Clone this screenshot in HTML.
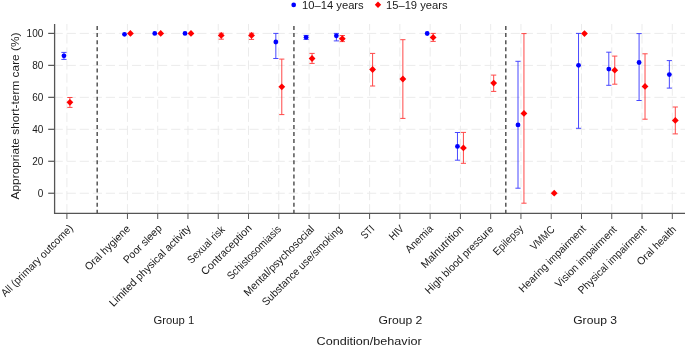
<!DOCTYPE html>
<html><head><meta charset="utf-8"><style>
html,body{margin:0;padding:0;background:#fff;}
body{width:685px;height:347px;overflow:hidden;}
svg{display:block;will-change:transform;font-family:"Liberation Sans",sans-serif;fill:#1a1a1a;}
</style></head><body>
<svg width="685" height="347" viewBox="0 0 685 347">
<line x1="53.6" y1="193.25" x2="685" y2="193.25" stroke="#ebebeb" stroke-width="1" stroke-dasharray="9.2 3.86"/>
<line x1="53.6" y1="161.28" x2="685" y2="161.28" stroke="#ebebeb" stroke-width="1" stroke-dasharray="9.2 3.86"/>
<line x1="53.6" y1="129.31" x2="685" y2="129.31" stroke="#ebebeb" stroke-width="1" stroke-dasharray="9.2 3.86"/>
<line x1="53.6" y1="97.34" x2="685" y2="97.34" stroke="#ebebeb" stroke-width="1" stroke-dasharray="9.2 3.86"/>
<line x1="53.6" y1="65.37" x2="685" y2="65.37" stroke="#ebebeb" stroke-width="1" stroke-dasharray="9.2 3.86"/>
<line x1="53.6" y1="33.40" x2="685" y2="33.40" stroke="#ebebeb" stroke-width="1" stroke-dasharray="9.2 3.86"/>
<line x1="66.90" y1="213.3" x2="66.90" y2="24" stroke="#ebebeb" stroke-width="1" stroke-dasharray="9.2 3.86"/>
<line x1="127.44" y1="213.3" x2="127.44" y2="24" stroke="#ebebeb" stroke-width="1" stroke-dasharray="9.2 3.86"/>
<line x1="157.71" y1="213.3" x2="157.71" y2="24" stroke="#ebebeb" stroke-width="1" stroke-dasharray="9.2 3.86"/>
<line x1="187.98" y1="213.3" x2="187.98" y2="24" stroke="#ebebeb" stroke-width="1" stroke-dasharray="9.2 3.86"/>
<line x1="218.25" y1="213.3" x2="218.25" y2="24" stroke="#ebebeb" stroke-width="1" stroke-dasharray="9.2 3.86"/>
<line x1="248.52" y1="213.3" x2="248.52" y2="24" stroke="#ebebeb" stroke-width="1" stroke-dasharray="9.2 3.86"/>
<line x1="278.79" y1="213.3" x2="278.79" y2="24" stroke="#ebebeb" stroke-width="1" stroke-dasharray="9.2 3.86"/>
<line x1="309.06" y1="213.3" x2="309.06" y2="24" stroke="#ebebeb" stroke-width="1" stroke-dasharray="9.2 3.86"/>
<line x1="339.33" y1="213.3" x2="339.33" y2="24" stroke="#ebebeb" stroke-width="1" stroke-dasharray="9.2 3.86"/>
<line x1="369.60" y1="213.3" x2="369.60" y2="24" stroke="#ebebeb" stroke-width="1" stroke-dasharray="9.2 3.86"/>
<line x1="399.87" y1="213.3" x2="399.87" y2="24" stroke="#ebebeb" stroke-width="1" stroke-dasharray="9.2 3.86"/>
<line x1="430.14" y1="213.3" x2="430.14" y2="24" stroke="#ebebeb" stroke-width="1" stroke-dasharray="9.2 3.86"/>
<line x1="460.41" y1="213.3" x2="460.41" y2="24" stroke="#ebebeb" stroke-width="1" stroke-dasharray="9.2 3.86"/>
<line x1="490.68" y1="213.3" x2="490.68" y2="24" stroke="#ebebeb" stroke-width="1" stroke-dasharray="9.2 3.86"/>
<line x1="520.95" y1="213.3" x2="520.95" y2="24" stroke="#ebebeb" stroke-width="1" stroke-dasharray="9.2 3.86"/>
<line x1="551.22" y1="213.3" x2="551.22" y2="24" stroke="#ebebeb" stroke-width="1" stroke-dasharray="9.2 3.86"/>
<line x1="581.49" y1="213.3" x2="581.49" y2="24" stroke="#ebebeb" stroke-width="1" stroke-dasharray="9.2 3.86"/>
<line x1="611.76" y1="213.3" x2="611.76" y2="24" stroke="#ebebeb" stroke-width="1" stroke-dasharray="9.2 3.86"/>
<line x1="642.03" y1="213.3" x2="642.03" y2="24" stroke="#ebebeb" stroke-width="1" stroke-dasharray="9.2 3.86"/>
<line x1="672.30" y1="213.3" x2="672.30" y2="24" stroke="#ebebeb" stroke-width="1" stroke-dasharray="9.2 3.86"/>
<line x1="97.17" y1="26" x2="97.17" y2="213.3" stroke="#3a3a3a" stroke-width="1.3" stroke-dasharray="4 3.07"/>
<line x1="293.93" y1="26" x2="293.93" y2="213.3" stroke="#3a3a3a" stroke-width="1.3" stroke-dasharray="4 3.07"/>
<line x1="505.82" y1="26" x2="505.82" y2="213.3" stroke="#3a3a3a" stroke-width="1.3" stroke-dasharray="4 3.07"/>
<line x1="54.6" y1="24" x2="54.6" y2="213.3" stroke="#555555" stroke-width="1.3"/>
<line x1="53.95" y1="213.3" x2="685" y2="213.3" stroke="#555555" stroke-width="1.3"/>
<line x1="48.2" y1="193.25" x2="54.6" y2="193.25" stroke="#555555" stroke-width="1.2"/>
<text x="43.3" y="196.85" text-anchor="end" font-size="10">0</text>
<line x1="48.2" y1="161.28" x2="54.6" y2="161.28" stroke="#555555" stroke-width="1.2"/>
<text x="43.3" y="164.88" text-anchor="end" font-size="10">20</text>
<line x1="48.2" y1="129.31" x2="54.6" y2="129.31" stroke="#555555" stroke-width="1.2"/>
<text x="43.3" y="132.91" text-anchor="end" font-size="10">40</text>
<line x1="48.2" y1="97.34" x2="54.6" y2="97.34" stroke="#555555" stroke-width="1.2"/>
<text x="43.3" y="100.94" text-anchor="end" font-size="10">60</text>
<line x1="48.2" y1="65.37" x2="54.6" y2="65.37" stroke="#555555" stroke-width="1.2"/>
<text x="43.3" y="68.97" text-anchor="end" font-size="10">80</text>
<line x1="48.2" y1="33.40" x2="54.6" y2="33.40" stroke="#555555" stroke-width="1.2"/>
<text x="43.3" y="37.00" text-anchor="end" font-size="10">100</text>
<line x1="66.90" y1="213.3" x2="66.90" y2="219" stroke="#555555" stroke-width="1"/>
<text transform="translate(73.77,228.80) rotate(-45)" text-anchor="end" font-size="10.7" textLength="96.96" lengthAdjust="spacingAndGlyphs">All (primary outcome)</text>
<line x1="127.44" y1="213.3" x2="127.44" y2="219" stroke="#555555" stroke-width="1"/>
<text transform="translate(130.74,229.40) rotate(-45)" text-anchor="end" font-size="10.7" textLength="58.91" lengthAdjust="spacingAndGlyphs">Oral hygiene</text>
<line x1="157.71" y1="213.3" x2="157.71" y2="219" stroke="#555555" stroke-width="1"/>
<text transform="translate(162.53,229.01) rotate(-45)" text-anchor="end" font-size="10.7" textLength="49.61" lengthAdjust="spacingAndGlyphs">Poor sleep</text>
<line x1="187.98" y1="213.3" x2="187.98" y2="219" stroke="#555555" stroke-width="1"/>
<text transform="translate(191.46,229.22) rotate(-45)" text-anchor="end" font-size="10.7" textLength="110.37" lengthAdjust="spacingAndGlyphs">Limited physical activity</text>
<line x1="218.25" y1="213.3" x2="218.25" y2="219" stroke="#555555" stroke-width="1"/>
<text transform="translate(225.47,230.28) rotate(-45)" text-anchor="end" font-size="10.7" textLength="47.88" lengthAdjust="spacingAndGlyphs">Sexual risk</text>
<line x1="248.52" y1="213.3" x2="248.52" y2="219" stroke="#555555" stroke-width="1"/>
<text transform="translate(252.42,228.80) rotate(-45)" text-anchor="end" font-size="10.7" textLength="66.55" lengthAdjust="spacingAndGlyphs">Contraception</text>
<line x1="278.79" y1="213.3" x2="278.79" y2="219" stroke="#555555" stroke-width="1"/>
<text transform="translate(281.84,229.65) rotate(-45)" text-anchor="end" font-size="10.7" textLength="71.72" lengthAdjust="spacingAndGlyphs">Schistosomiasis</text>
<line x1="309.06" y1="213.3" x2="309.06" y2="219" stroke="#555555" stroke-width="1"/>
<text transform="translate(314.94,229.79) rotate(-45)" text-anchor="end" font-size="10.7" textLength="94.55" lengthAdjust="spacingAndGlyphs">Mental/psychosocial</text>
<line x1="339.33" y1="213.3" x2="339.33" y2="219" stroke="#555555" stroke-width="1"/>
<text transform="translate(342.84,229.61) rotate(-45)" text-anchor="end" font-size="10.7" textLength="108.48" lengthAdjust="spacingAndGlyphs">Substance use/smoking</text>
<line x1="369.60" y1="213.3" x2="369.60" y2="219" stroke="#555555" stroke-width="1"/>
<text transform="translate(375.06,229.51) rotate(-45)" text-anchor="end" font-size="10.7" textLength="14.14" lengthAdjust="spacingAndGlyphs">STI</text>
<line x1="399.87" y1="213.3" x2="399.87" y2="219" stroke="#555555" stroke-width="1"/>
<text transform="translate(404.48,229.51) rotate(-45)" text-anchor="end" font-size="10.7" textLength="15.83" lengthAdjust="spacingAndGlyphs">HIV</text>
<line x1="430.14" y1="213.3" x2="430.14" y2="219" stroke="#555555" stroke-width="1"/>
<text transform="translate(433.69,229.29) rotate(-45)" text-anchor="end" font-size="10.7" textLength="34.25" lengthAdjust="spacingAndGlyphs">Anemia</text>
<line x1="460.41" y1="213.3" x2="460.41" y2="219" stroke="#555555" stroke-width="1"/>
<text transform="translate(464.13,229.69) rotate(-45)" text-anchor="end" font-size="10.7" textLength="55.15" lengthAdjust="spacingAndGlyphs">Malnutrition</text>
<line x1="490.68" y1="213.3" x2="490.68" y2="219" stroke="#555555" stroke-width="1"/>
<text transform="translate(494.18,229.77) rotate(-45)" text-anchor="end" font-size="10.7" textLength="91.66" lengthAdjust="spacingAndGlyphs">High blood pressure</text>
<line x1="520.95" y1="213.3" x2="520.95" y2="219" stroke="#555555" stroke-width="1"/>
<text transform="translate(524.00,229.22) rotate(-45)" text-anchor="end" font-size="10.7" textLength="37.71" lengthAdjust="spacingAndGlyphs">Epilepsy</text>
<line x1="551.22" y1="213.3" x2="551.22" y2="219" stroke="#555555" stroke-width="1"/>
<text transform="translate(555.30,230.11) rotate(-45)" text-anchor="end" font-size="10.7" textLength="29.36" lengthAdjust="spacingAndGlyphs">VMMC</text>
<line x1="581.49" y1="213.3" x2="581.49" y2="219" stroke="#555555" stroke-width="1"/>
<text transform="translate(586.45,229.58) rotate(-45)" text-anchor="end" font-size="10.7" textLength="89.67" lengthAdjust="spacingAndGlyphs">Hearing impairment</text>
<line x1="611.76" y1="213.3" x2="611.76" y2="219" stroke="#555555" stroke-width="1"/>
<text transform="translate(617.39,230.11) rotate(-45)" text-anchor="end" font-size="10.7" textLength="82.05" lengthAdjust="spacingAndGlyphs">Vision impairment</text>
<line x1="642.03" y1="213.3" x2="642.03" y2="219" stroke="#555555" stroke-width="1"/>
<text transform="translate(646.99,229.86) rotate(-45)" text-anchor="end" font-size="10.7" textLength="91.53" lengthAdjust="spacingAndGlyphs">Physical impairment</text>
<line x1="672.30" y1="213.3" x2="672.30" y2="219" stroke="#555555" stroke-width="1"/>
<text transform="translate(676.91,230.07) rotate(-45)" text-anchor="end" font-size="10.7" textLength="50.68" lengthAdjust="spacingAndGlyphs">Oral health</text>
<g stroke="#0000ff" stroke-width="1" opacity="0.72"><line x1="63.95" y1="52.4" x2="63.95" y2="59.4"/><line x1="61.35" y1="52.4" x2="66.55" y2="52.4"/><line x1="61.35" y1="59.4" x2="66.55" y2="59.4"/></g>
<circle cx="63.95" cy="55.8" r="2.4" fill="#0000ff"/>
<g stroke="#ff0000" stroke-width="1" opacity="0.72"><line x1="69.90" y1="97.5" x2="69.90" y2="107.4"/><line x1="67.30" y1="97.5" x2="72.50" y2="97.5"/><line x1="67.30" y1="107.4" x2="72.50" y2="107.4"/></g>
<path d="M69.90 98.90L73.30 102.30L69.90 105.70L66.50 102.30Z" fill="#ff0000"/>
<circle cx="124.49" cy="34.3" r="2.4" fill="#0000ff"/>
<path d="M130.44 30.00L133.84 33.40L130.44 36.80L127.04 33.40Z" fill="#ff0000"/>
<circle cx="154.76" cy="33.4" r="2.4" fill="#0000ff"/>
<path d="M160.71 30.00L164.11 33.40L160.71 36.80L157.31 33.40Z" fill="#ff0000"/>
<circle cx="185.03" cy="33.4" r="2.4" fill="#0000ff"/>
<path d="M190.98 30.00L194.38 33.40L190.98 36.80L187.58 33.40Z" fill="#ff0000"/>
<g stroke="#ff0000" stroke-width="1" opacity="0.72"><line x1="221.25" y1="33.2" x2="221.25" y2="39.2"/><line x1="218.65" y1="33.2" x2="223.85" y2="33.2"/><line x1="218.65" y1="39.2" x2="223.85" y2="39.2"/></g>
<path d="M221.25 32.00L224.65 35.40L221.25 38.80L217.85 35.40Z" fill="#ff0000"/>
<g stroke="#ff0000" stroke-width="1" opacity="0.72"><line x1="251.52" y1="33.2" x2="251.52" y2="39.4"/><line x1="248.92" y1="33.2" x2="254.12" y2="33.2"/><line x1="248.92" y1="39.4" x2="254.12" y2="39.4"/></g>
<path d="M251.52 32.00L254.92 35.40L251.52 38.80L248.12 35.40Z" fill="#ff0000"/>
<g stroke="#0000ff" stroke-width="1" opacity="0.72"><line x1="275.84" y1="33.4" x2="275.84" y2="58.5"/><line x1="273.24" y1="33.4" x2="278.44" y2="33.4"/><line x1="273.24" y1="58.5" x2="278.44" y2="58.5"/></g>
<circle cx="275.84" cy="42.0" r="2.4" fill="#0000ff"/>
<g stroke="#ff0000" stroke-width="1" opacity="0.72"><line x1="281.79" y1="59.1" x2="281.79" y2="114.6"/><line x1="279.19" y1="59.1" x2="284.39" y2="59.1"/><line x1="279.19" y1="114.6" x2="284.39" y2="114.6"/></g>
<path d="M281.79 83.40L285.19 86.80L281.79 90.20L278.39 86.80Z" fill="#ff0000"/>
<g stroke="#0000ff" stroke-width="1" opacity="0.72"><line x1="306.11" y1="35.4" x2="306.11" y2="39.4"/><line x1="303.51" y1="35.4" x2="308.71" y2="35.4"/><line x1="303.51" y1="39.4" x2="308.71" y2="39.4"/></g>
<circle cx="306.11" cy="37.3" r="2.4" fill="#0000ff"/>
<g stroke="#ff0000" stroke-width="1" opacity="0.72"><line x1="312.06" y1="53.4" x2="312.06" y2="63.4"/><line x1="309.46" y1="53.4" x2="314.66" y2="53.4"/><line x1="309.46" y1="63.4" x2="314.66" y2="63.4"/></g>
<path d="M312.06 55.10L315.46 58.50L312.06 61.90L308.66 58.50Z" fill="#ff0000"/>
<g stroke="#0000ff" stroke-width="1" opacity="0.72"><line x1="336.38" y1="33.4" x2="336.38" y2="40.9"/><line x1="333.78" y1="33.4" x2="338.98" y2="33.4"/><line x1="333.78" y1="40.9" x2="338.98" y2="40.9"/></g>
<circle cx="336.38" cy="35.8" r="2.4" fill="#0000ff"/>
<g stroke="#ff0000" stroke-width="1" opacity="0.72"><line x1="342.33" y1="35.5" x2="342.33" y2="41.6"/><line x1="339.73" y1="35.5" x2="344.93" y2="35.5"/><line x1="339.73" y1="41.6" x2="344.93" y2="41.6"/></g>
<path d="M342.33 35.30L345.73 38.70L342.33 42.10L338.93 38.70Z" fill="#ff0000"/>
<g stroke="#ff0000" stroke-width="1" opacity="0.72"><line x1="372.60" y1="53.4" x2="372.60" y2="86.0"/><line x1="370.00" y1="53.4" x2="375.20" y2="53.4"/><line x1="370.00" y1="86.0" x2="375.20" y2="86.0"/></g>
<path d="M372.60 66.10L376.00 69.50L372.60 72.90L369.20 69.50Z" fill="#ff0000"/>
<g stroke="#ff0000" stroke-width="1" opacity="0.72"><line x1="402.87" y1="39.7" x2="402.87" y2="118.4"/><line x1="400.27" y1="39.7" x2="405.47" y2="39.7"/><line x1="400.27" y1="118.4" x2="405.47" y2="118.4"/></g>
<path d="M402.87 75.60L406.27 79.00L402.87 82.40L399.47 79.00Z" fill="#ff0000"/>
<circle cx="427.19" cy="33.5" r="2.4" fill="#0000ff"/>
<g stroke="#ff0000" stroke-width="1" opacity="0.72"><line x1="433.14" y1="33.4" x2="433.14" y2="41.4"/><line x1="430.54" y1="33.4" x2="435.74" y2="33.4"/><line x1="430.54" y1="41.4" x2="435.74" y2="41.4"/></g>
<path d="M433.14 34.00L436.54 37.40L433.14 40.80L429.74 37.40Z" fill="#ff0000"/>
<g stroke="#0000ff" stroke-width="1" opacity="0.72"><line x1="457.46" y1="132.5" x2="457.46" y2="160.2"/><line x1="454.86" y1="132.5" x2="460.06" y2="132.5"/><line x1="454.86" y1="160.2" x2="460.06" y2="160.2"/></g>
<circle cx="457.46" cy="146.4" r="2.4" fill="#0000ff"/>
<g stroke="#ff0000" stroke-width="1" opacity="0.72"><line x1="463.41" y1="132.4" x2="463.41" y2="163.3"/><line x1="460.81" y1="132.4" x2="466.01" y2="132.4"/><line x1="460.81" y1="163.3" x2="466.01" y2="163.3"/></g>
<path d="M463.41 144.50L466.81 147.90L463.41 151.30L460.01 147.90Z" fill="#ff0000"/>
<g stroke="#ff0000" stroke-width="1" opacity="0.72"><line x1="493.68" y1="75.1" x2="493.68" y2="91.4"/><line x1="491.08" y1="75.1" x2="496.28" y2="75.1"/><line x1="491.08" y1="91.4" x2="496.28" y2="91.4"/></g>
<path d="M493.68 79.70L497.08 83.10L493.68 86.50L490.28 83.10Z" fill="#ff0000"/>
<g stroke="#0000ff" stroke-width="1" opacity="0.72"><line x1="518.00" y1="61.3" x2="518.00" y2="188.2"/><line x1="515.40" y1="61.3" x2="520.60" y2="61.3"/><line x1="515.40" y1="188.2" x2="520.60" y2="188.2"/></g>
<circle cx="518.00" cy="124.9" r="2.4" fill="#0000ff"/>
<g stroke="#ff0000" stroke-width="1" opacity="0.72"><line x1="523.95" y1="33.6" x2="523.95" y2="203.2"/><line x1="521.35" y1="33.6" x2="526.55" y2="33.6"/><line x1="521.35" y1="203.2" x2="526.55" y2="203.2"/></g>
<path d="M523.95 110.00L527.35 113.40L523.95 116.80L520.55 113.40Z" fill="#ff0000"/>
<path d="M554.22 189.80L557.62 193.20L554.22 196.60L550.82 193.20Z" fill="#ff0000"/>
<g stroke="#0000ff" stroke-width="1" opacity="0.72"><line x1="578.54" y1="33.4" x2="578.54" y2="128.3"/><line x1="575.94" y1="33.4" x2="581.14" y2="33.4"/><line x1="575.94" y1="128.3" x2="581.14" y2="128.3"/></g>
<circle cx="578.54" cy="65.3" r="2.4" fill="#0000ff"/>
<path d="M584.49 30.20L587.89 33.60L584.49 37.00L581.09 33.60Z" fill="#ff0000"/>
<g stroke="#0000ff" stroke-width="1" opacity="0.72"><line x1="608.81" y1="52.2" x2="608.81" y2="85.3"/><line x1="606.21" y1="52.2" x2="611.41" y2="52.2"/><line x1="606.21" y1="85.3" x2="611.41" y2="85.3"/></g>
<circle cx="608.81" cy="69.1" r="2.4" fill="#0000ff"/>
<g stroke="#ff0000" stroke-width="1" opacity="0.72"><line x1="614.76" y1="56.1" x2="614.76" y2="84.2"/><line x1="612.16" y1="56.1" x2="617.36" y2="56.1"/><line x1="612.16" y1="84.2" x2="617.36" y2="84.2"/></g>
<path d="M614.76 66.80L618.16 70.20L614.76 73.60L611.36 70.20Z" fill="#ff0000"/>
<g stroke="#0000ff" stroke-width="1" opacity="0.72"><line x1="639.08" y1="33.6" x2="639.08" y2="100.5"/><line x1="636.48" y1="33.6" x2="641.68" y2="33.6"/><line x1="636.48" y1="100.5" x2="641.68" y2="100.5"/></g>
<circle cx="639.08" cy="62.5" r="2.4" fill="#0000ff"/>
<g stroke="#ff0000" stroke-width="1" opacity="0.72"><line x1="645.03" y1="53.8" x2="645.03" y2="119.2"/><line x1="642.43" y1="53.8" x2="647.63" y2="53.8"/><line x1="642.43" y1="119.2" x2="647.63" y2="119.2"/></g>
<path d="M645.03 83.00L648.43 86.40L645.03 89.80L641.63 86.40Z" fill="#ff0000"/>
<g stroke="#0000ff" stroke-width="1" opacity="0.72"><line x1="669.35" y1="60.6" x2="669.35" y2="88.1"/><line x1="666.75" y1="60.6" x2="671.95" y2="60.6"/><line x1="666.75" y1="88.1" x2="671.95" y2="88.1"/></g>
<circle cx="669.35" cy="74.6" r="2.4" fill="#0000ff"/>
<g stroke="#ff0000" stroke-width="1" opacity="0.72"><line x1="675.30" y1="107.0" x2="675.30" y2="133.9"/><line x1="672.70" y1="107.0" x2="677.90" y2="107.0"/><line x1="672.70" y1="133.9" x2="677.90" y2="133.9"/></g>
<path d="M675.30 117.00L678.70 120.40L675.30 123.80L671.90 120.40Z" fill="#ff0000"/>
<circle cx="293.7" cy="4.9" r="2.35" fill="#0000ff"/>
<text x="302" y="8.7" font-size="11.6" textLength="61.7" lengthAdjust="spacingAndGlyphs">10–14 years</text>
<path d="M378.00 1.60L381.20 4.80L378.00 8.00L374.80 4.80Z" fill="#ff0000"/>
<text x="386" y="8.7" font-size="11.6" textLength="61.5" lengthAdjust="spacingAndGlyphs">15–19 years</text>
<text transform="translate(19.3,116) rotate(-90)" text-anchor="middle" font-size="11.8" textLength="166.9" lengthAdjust="spacingAndGlyphs">Appropriate short-term care (%)</text>
<text x="173.90" y="324.4" text-anchor="middle" font-size="11.6" textLength="40.7" lengthAdjust="spacingAndGlyphs">Group 1</text>
<text x="400.40" y="324.4" text-anchor="middle" font-size="11.6" textLength="43.9" lengthAdjust="spacingAndGlyphs">Group 2</text>
<text x="595.10" y="324.4" text-anchor="middle" font-size="11.6" textLength="43.8" lengthAdjust="spacingAndGlyphs">Group 3</text>
<text x="369.1" y="345.3" text-anchor="middle" font-size="11.6" textLength="105.1" lengthAdjust="spacingAndGlyphs">Condition/behavior</text>
</svg>
</body></html>
